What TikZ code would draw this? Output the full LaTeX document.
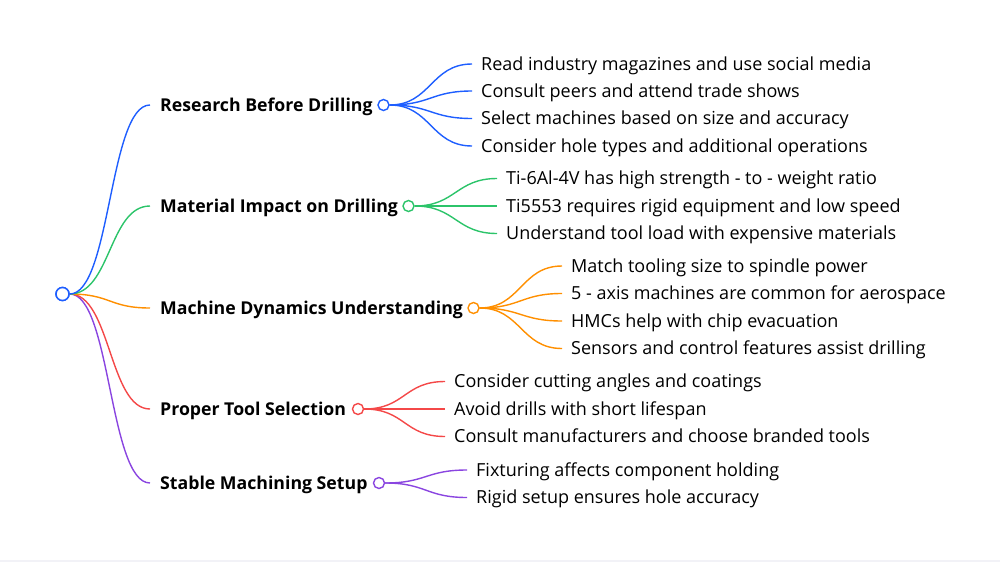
\documentclass[tikz,border=0pt]{standalone}
\usepackage{fontspec}
\setmainfont{Open Sans}
\usetikzlibrary{calc}
\definecolor{cblue}{HTML}{1E5EFF}
\definecolor{cgreen}{HTML}{2CC46A}
\definecolor{corange}{HTML}{FF8F00}
\definecolor{cred}{HTML}{F44848}
\definecolor{cpurple}{HTML}{8A45E0}
\definecolor{cbottom}{HTML}{F2F2F7}
\tikzset{
  rootdot/.style={circle,draw=cblue,line width=1.5pt,fill=white,minimum size=13pt,inner sep=0pt},
  catdot/.style={circle,draw=#1,line width=1.4pt,fill=white,minimum size=11pt,inner sep=0pt},
  cat/.style={anchor=west,inner sep=0pt,text height=12.6pt,text depth=0pt,font=\fontsize{17.7}{20}\selectfont\bfseries},
  leaf/.style={anchor=west,inner ysep=0pt,inner xsep=9pt,text height=12.85pt,text depth=0pt,font=\fontsize{18}{20}\selectfont},
  edge/.style={draw=#1,line width=1.4pt}
}
\newcommand{\branch}[3]{\draw[edge=#1] (#2) .. controls +(41,0) and +(-41,0) .. (#3);}
\begin{document}
\begin{tikzpicture}[x=1pt,y=-1pt]
\useasboundingbox (0,0) rectangle (1000,562);
\fill[cbottom] (0,560) rectangle (1000,562);
% root
\node[rootdot] (root) at (62.5,294) {};
% categories
\node[cat] (c1) at (160,105) {Research Before Drilling};
\node[cat] (c2) at (160,206) {Material Impact on Drilling};
\node[cat] (c3) at (160,308) {Machine Dynamics Understanding};
\node[cat] (c4) at (160,409) {Proper Tool Selection};
\node[cat] (c5) at (160,483) {Stable Machining Setup};
\coordinate (e1) at (150,105);
\coordinate (e2) at (150,206);
\coordinate (e3) at (150,308);
\coordinate (e4) at (150,409);
\coordinate (e5) at (150,483);
\node[catdot=cblue] (d1) at (383.5,105) {};
\node[catdot=cgreen] (d2) at (408.5,206) {};
\node[catdot=corange] (d3) at (473.5,308) {};
\node[catdot=cred] (d4) at (358,409) {};
\node[catdot=cpurple] (d5) at (379,483) {};
% leaves
\node[leaf] (l11) at (472,64) {Read industry magazines and use social media};
\node[leaf] (l12) at (472,91) {Consult peers and attend trade shows};
\node[leaf] (l13) at (472,118.5) {Select machines based on size and accuracy};
\node[leaf] (l14) at (472,146) {Consider hole types and additional operations};
\node[leaf] (l21) at (497,178.5) {Ti-6Al-4V has high strength - to - weight ratio};
\node[leaf] (l22) at (497,206) {Ti5553 requires rigid equipment and low speed};
\node[leaf] (l23) at (497,233.5) {Understand tool load with expensive materials};
\node[leaf] (l31) at (562,266) {Match tooling size to spindle power};
\node[leaf] (l32) at (562,293.5) {5 - axis machines are common for aerospace};
\node[leaf] (l33) at (562,321) {HMCs help with chip evacuation};
\node[leaf] (l34) at (562,348.5) {Sensors and control features assist drilling};
\node[leaf] (l41) at (445,381.5) {Consider cutting angles and coatings};
\node[leaf] (l42) at (445,409) {Avoid drills with short lifespan};
\node[leaf] (l43) at (445,436.5) {Consult manufacturers and choose branded tools};
\node[leaf] (l51) at (467,470) {Fixturing affects component holding};
\node[leaf] (l52) at (467,497.5) {Rigid setup ensures hole accuracy};
% root connectors
\branch{cpurple}{root.east}{e5}
\branch{cred}{root.east}{e4}
\branch{corange}{root.east}{e3}
\branch{cgreen}{root.east}{e2}
\branch{cblue}{root.east}{e1}
\node[rootdot] at (root) {};
% leaf connectors
\branch{cblue}{d1.east}{l11.west}
\branch{cblue}{d1.east}{l12.west}
\branch{cblue}{d1.east}{l13.west}
\branch{cblue}{d1.east}{l14.west}
\branch{cgreen}{d2.east}{l21.west}
\branch{cgreen}{d2.east}{l22.west}
\branch{cgreen}{d2.east}{l23.west}
\branch{corange}{d3.east}{l31.west}
\branch{corange}{d3.east}{l32.west}
\branch{corange}{d3.east}{l33.west}
\branch{corange}{d3.east}{l34.west}
\branch{cred}{d4.east}{l41.west}
\branch{cred}{d4.east}{l42.west}
\branch{cred}{d4.east}{l43.west}
\branch{cpurple}{d5.east}{l51.west}
\branch{cpurple}{d5.east}{l52.west}
\end{tikzpicture}
\end{document}
